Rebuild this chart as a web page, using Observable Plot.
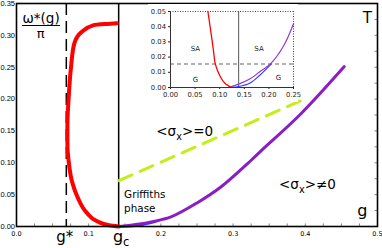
<!DOCTYPE html>
<html><head><meta charset="utf-8">
<script src="https://cdn.jsdelivr.net/npm/d3@7"></script>
<script src="https://cdn.jsdelivr.net/npm/@observablehq/plot@0.6"></script>
<style>
html,body{margin:0;padding:0;background:#fff;}
#wrap{position:relative;width:382px;height:248px;overflow:hidden;background:#fff;}
#inset{position:absolute;left:148px;top:4px;width:150px;height:98px;background:#fff;}
</style></head><body>
<div id="wrap"><div id="main"></div><div id="inset"></div></div>
<script>
// ---- main panel data ----
const gStar = 0.069;
const gC = 0.1415;
const xTicks = [0, 0.1, 0.2, 0.3, 0.4, 0.5];
const yTicks = [0, 0.05, 0.10, 0.15, 0.20, 0.25, 0.30, 0.35];
const xMinorTicks = [0.025, 0.05, 0.075, 0.1, 0.125, 0.15, 0.175, 0.2, 0.225, 0.25, 0.275, 0.3, 0.325, 0.35, 0.375, 0.4, 0.425, 0.45, 0.475];
const yMinorTicks = [0.025, 0.05, 0.075, 0.1, 0.125, 0.15, 0.175, 0.2, 0.225, 0.25, 0.275, 0.3, 0.325];

const redG = [0.139, 0.126, 0.107, 0.090, 0.080, 0.0755, 0.072, 0.0705, 0.0705, 0.0725, 0.077, 0.085, 0.097, 0.112, 0.128, 0.142];
const redW = [0.319, 0.318, 0.316, 0.305, 0.287, 0.250, 0.198, 0.160, 0.130, 0.100, 0.070, 0.045, 0.022, 0.008, 0.002, 0.000];

const purpleG = [0.142, 0.165, 0.190, 0.214, 0.250, 0.283, 0.325, 0.339, 0.394, 0.454];
const purpleT = [0.000, 0.003, 0.008, 0.015, 0.037, 0.062, 0.104, 0.119, 0.177, 0.251];

const blueG = [0.142, 0.165, 0.180, 0.192];
const blueT = [0.000, 0.001, 0.004, 0.007];

const greenG = [0.142, 0.395];
const greenT = [0.072, 0.198];

// ---- inset data ----
const insetXTicks = [0, 0.05, 0.10, 0.15, 0.20, 0.25];
const insetYTicks = [0, 0.01, 0.02, 0.03, 0.04, 0.05];
const insetGc = 0.1385;
const insetThreshold = 0.0155;

const insetRedG = [0.076, 0.0845, 0.0878, 0.091, 0.101, 0.110, 0.118, 0.1216];
const insetRedW = [0.050, 0.031, 0.023, 0.0155, 0.0072, 0.0030, 0.0011, 0.0005];

const insetPurpleG = [0.1216, 0.1385, 0.162, 0.182, 0.203, 0.230, 0.250];
const insetPurpleT = [0.0005, 0.0022, 0.0057, 0.0105, 0.0155, 0.0275, 0.042];

const insetBlueG = [0.125, 0.1385, 0.162, 0.182, 0.205];
const insetBlueT = [0.0003, 0.0007, 0.0030, 0.0082, 0.0155];

const font = "DejaVu Sans, sans-serif";
const table = (xs, ys) => xs.map((x, i) => ({x, y: ys[i]}));

const main = Plot.plot({
  width: 382, height: 248,
  marginLeft: 16, marginRight: 5, marginTop: 3, marginBottom: 22,
  x: {domain: [0, 0.5], label: null},
  y: {domain: [0, 0.35], label: null},
  style: {fontFamily: font, fontSize: "7px", color: "#000", background: "#fff", overflow: "visible"},
  marks: [
    Plot.axisY({ticks: yTicks, tickFormat: d3.format(".2f"), tickSize: 0, tickPadding: 1.5, fontSize: 7.5, fontFamily: "Liberation Sans, Arial, sans-serif"}),
    Plot.axisX({ticks: xTicks, tickFormat: d3.format(".1f"), tickSize: 0, tickPadding: 5, fontSize: 6.5}),
    Plot.ruleX(xMinorTicks, {y1: 0, y2: 0.004, stroke: "#666", strokeWidth: 0.8}),
    Plot.ruleY(yMinorTicks, {x1: 0.5, x2: 0.4965, stroke: "#666", strokeWidth: 0.8}),
    Plot.ruleX([gStar], {stroke: "#000", strokeWidth: 1.5, strokeDasharray: "12,6"}),
    Plot.ruleX([gC], {stroke: "#000", strokeWidth: 1.5}),
    Plot.line(table(greenG, greenT), {x: "x", y: "y", stroke: "#c4ee18", strokeWidth: 3, strokeDasharray: "14,9"}),
    Plot.line(table(blueG, blueT), {x: "x", y: "y", stroke: "#2a3cff", strokeWidth: 2.2, curve: "catmull-rom"}),
    Plot.line(table(purpleG, purpleT), {x: "x", y: "y", stroke: "#8a1ec4", strokeWidth: 3, curve: "catmull-rom"}),
    Plot.line(table(redG, redW), {x: "x", y: "y", stroke: "#ff0000", strokeWidth: 4, curve: "monotone-y"}),
    Plot.frame({stroke: "#000", strokeWidth: 1.6}),
    // annotations (data coordinates)
    Plot.text(["T"], {x: [0.486], y: [0.3187], fontSize: 15, lineAnchor: "bottom", textAnchor: "middle"}),
    Plot.text(["g"], {x: [0.479], y: [0.0157], fontSize: 16, lineAnchor: "bottom", textAnchor: "middle"}),
    Plot.text(["<σ_{x}>=0"], {x: [0.233], y: [0.1413], fontSize: 13.5, lineAnchor: "bottom", textAnchor: "middle"}),
    Plot.text(["<σ_{x}>≠0"], {x: [0.403], y: [0.0589], fontSize: 13.5, lineAnchor: "bottom", textAnchor: "middle"}),
    Plot.text(["Griffiths"], {x: [0.149], y: [0.0447], fontSize: 10.4, lineAnchor: "bottom", textAnchor: "start"}),
    Plot.text(["phase"], {x: [0.149], y: [0.0220], fontSize: 10.4, lineAnchor: "bottom", textAnchor: "start"}),
    Plot.text(["ω*(g)"], {x: [0.0083], y: [0.320], fontSize: 13.5, lineAnchor: "bottom", textAnchor: "start"}),
    Plot.ruleY([0.3155], {x1: 0.0083, x2: 0.061, stroke: "#000", strokeWidth: 1.2}),
    Plot.text(["π"], {x: [0.0333], y: [0.296], fontSize: 13, lineAnchor: "bottom", textAnchor: "middle"}),
    Plot.text(["g*"], {x: [0.0667], y: [-0.0243], fontSize: 15, lineAnchor: "bottom", textAnchor: "middle"}),
    Plot.text(["g_{c}"], {x: [0.145], y: [-0.0243], fontSize: 16, lineAnchor: "bottom", textAnchor: "middle"})
  ]
});
document.getElementById("main").appendChild(main);

const inset = Plot.plot({
  width: 150, height: 98,
  marginLeft: 22, marginRight: 5, marginTop: 7, marginBottom: 15,
  x: {domain: [0, 0.25], label: null},
  y: {domain: [0, 0.05], label: null},
  style: {fontFamily: font, fontSize: "6.8px", color: "#222", background: "#fff", overflow: "visible"},
  marks: [
    Plot.axisY({ticks: insetYTicks, tickFormat: d3.format(".2f"), tickSize: 2, tickPadding: 2.5}),
    Plot.axisX({ticks: insetXTicks, tickFormat: d3.format(".2f"), tickSize: 2, tickPadding: 2.5}),
    Plot.ruleY([insetThreshold], {stroke: "#666", strokeWidth: 1.1, strokeDasharray: "4,3"}),
    Plot.ruleX([insetGc], {stroke: "#555", strokeWidth: 1}),
    Plot.line(table(insetBlueG, insetBlueT), {x: "x", y: "y", stroke: "#2a3cff", strokeWidth: 1.1, curve: "catmull-rom"}),
    Plot.line(table(insetPurpleG, insetPurpleT), {x: "x", y: "y", stroke: "#9a35cc", strokeWidth: 1.2, curve: "catmull-rom"}),
    Plot.line(table(insetRedG, insetRedW), {x: "x", y: "y", stroke: "#ff0000", strokeWidth: 1.3, curve: "catmull-rom"}),
    Plot.ruleX([0], {stroke: "#333", strokeWidth: 1}),
    Plot.ruleY([0], {stroke: "#333", strokeWidth: 1}),
    Plot.ruleX([0.25], {stroke: "#444", strokeWidth: 1, strokeDasharray: "1,1.5"}),
    Plot.ruleY([0.05], {stroke: "#444", strokeWidth: 1, strokeDasharray: "1,1.5"}),
    Plot.text(["SA", "SA", "G", "G"], {x: [0.0507, 0.180, 0.0507, 0.2196], y: [0.0256, 0.0254, 0.0051, 0.0066], fontSize: 7, fill: "#222"})
  ]
});
document.getElementById("inset").appendChild(inset);

// turn "_{..}" markers into real subscripts
d3.select(main).selectAll("text").each(function() {
  const s = this.textContent;
  if (!s.includes("_{")) return;
  const fs = parseFloat(getComputedStyle(this).fontSize) || 13;
  const parts = s.split(/(_\{[^}]*\})/).filter(p => p.length);
  const el = d3.select(this);
  const keepDy = this.getAttribute("dy");
  this.textContent = "";
  const shift = fs * 0.28;
  parts.forEach(p => {
    if (p.startsWith("_{")) {
      el.append("tspan").attr("dy", shift).attr("font-size", fs * 0.72).text(p.slice(2, -1));
    } else {
      const t = el.append("tspan").text(p);
      if (el.selectAll("tspan").size() > 1) t.attr("dy", -shift);
    }
  });
  if (keepDy) this.setAttribute("dy", keepDy);
});
</script>
</body></html>
